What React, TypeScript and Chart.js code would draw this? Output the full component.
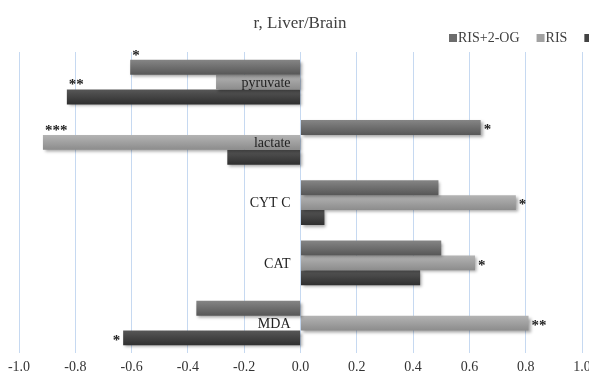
import React, { useEffect, useRef } from "react";
import { Chart, registerables } from "chart.js";

Chart.register(...registerables);

const categories = ["pyruvate", "lactate", "CYT C", "CAT", "MDA"];
const seriesNames = ["RIS+2-OG", "RIS", "C"];
const risOg = [-0.605, 0.64, 0.49, 0.5, -0.37];
const ris = [-0.3, -0.915, 0.765, 0.62, 0.81];
const ctrl = [-0.83, -0.26, 0.085, 0.425, -0.63];
const starsRisOg = ["*", "*", "", "", ""];
const starsRis = ["", "***", "*", "*", "**"];
const starsCtrl = ["**", "", "", "", "*"];
const placeRisOg = ["above", "right", "", "", ""];
const placeRis = ["", "above", "right", "right", "right"];
const placeCtrl = ["above", "", "", "", "left"];
const xMin = -1;
const xMax = 1;
const xStep = 0.2;
const titleText = "r, Liver/Brain";

const SERIF = "'Liberation Serif', 'Times New Roman', serif";

const palettes = [
  { top: "#858585", bottom: "#575757", flat: "#6c6c6c", legend: "#6c6c6c" },
  { top: "#b4b4b4", bottom: "#8c8c8c", flat: "#a2a2a2", legend: "#a2a2a2" },
  { top: "#575757", bottom: "#2f2f2f", flat: "#434343", legend: "#434343" },
];

function makeBg(idx: number) {
  return (c: any) => {
    const el = c.element;
    const p = palettes[idx];
    if (!el || typeof el.y !== "number" || typeof el.height !== "number" || isNaN(el.y)) return p.flat;
    const ctx = c.chart.ctx;
    const g = ctx.createLinearGradient(0, el.y - el.height / 2, 0, el.y + el.height / 2);
    g.addColorStop(0, p.top);
    g.addColorStop(1, p.bottom);
    return g;
  };
}

const decorPlugin = {
  id: "decor",
  beforeDatasetsDraw(chart: any) {
    const ctx = chart.ctx;
    ctx.save();
    ctx.shadowColor = "rgba(0,0,0,0.35)";
    ctx.shadowOffsetX = 2;
    ctx.shadowOffsetY = 2;
    ctx.shadowBlur = 3;
  },
  afterDatasetsDraw(chart: any) {
    const ctx = chart.ctx;
    ctx.restore();
    const xs = chart.scales.x;
    const ys = chart.scales.y;
    const x0 = xs.getPixelForValue(0);
    ctx.save();
    ctx.fillStyle = "#222";
    ctx.font = "14px " + SERIF;
    ctx.textAlign = "right";
    ctx.textBaseline = "middle";
    categories.forEach((c, i) => {
      ctx.fillText(c, x0 - 10, ys.getPixelForValue(i) + 1);
    });
    ctx.restore();

    const stars = [starsRisOg, starsRis, starsCtrl];
    const places = [placeRisOg, placeRis, placeCtrl];
    ctx.save();
    ctx.fillStyle = "#222";
    ctx.font = "bold 15px " + SERIF;
    stars.forEach((arr, di) => {
      const meta = chart.getDatasetMeta(di);
      arr.forEach((s, i) => {
        if (!s) return;
        const el = meta.data[i];
        const pl = places[di][i];
        const x = el.x;
        const y = el.y;
        const h = el.height;
        if (pl === "right") {
          ctx.textAlign = "left";
          ctx.textBaseline = "middle";
          ctx.fillText(s, x + 3, y + 3);
        } else if (pl === "left") {
          ctx.textAlign = "right";
          ctx.textBaseline = "middle";
          ctx.fillText(s, x - 3, y + 3);
        } else {
          ctx.textAlign = "left";
          ctx.textBaseline = "middle";
          ctx.fillText(s, x + 2, y - h / 2 - 4);
        }
      });
    });
    ctx.restore();
  },
  afterDraw(chart: any) {
    const ctx = chart.ctx;
    ctx.save();
    ctx.fillStyle = "#404040";
    ctx.font = "17px " + SERIF;
    ctx.textAlign = "center";
    ctx.textBaseline = "middle";
    ctx.fillText(titleText, 300, 24);
    ctx.font = "14px " + SERIF;
    ctx.textAlign = "left";
    let x = 449;
    const ly = 38;
    seriesNames.forEach((n, i) => {
      ctx.fillStyle = palettes[i].legend;
      ctx.fillRect(x, ly - 4, 8, 8);
      ctx.fillStyle = "#404040";
      ctx.fillText(n, x + 9, ly);
      x += 9 + ctx.measureText(n).width + 17;
    });
    ctx.restore();
  },
};

export default function App() {
  const ref = useRef<HTMLCanvasElement | null>(null);
  useEffect(() => {
    document.documentElement.style.overflow = "hidden";
    document.body.style.overflow = "hidden";
    if (!ref.current) return;
    const chart = new Chart(ref.current, {
      type: "bar",
      data: {
        labels: categories,
        datasets: [
          { label: seriesNames[0], data: risOg, backgroundColor: makeBg(0) },
          { label: seriesNames[1], data: ris, backgroundColor: makeBg(1) },
          { label: seriesNames[2], data: ctrl, backgroundColor: makeBg(2) },
        ],
      },
      options: {
        indexAxis: "y",
        animation: false,
        responsive: true,
        maintainAspectRatio: false,
        layout: { padding: { top: 52, left: 19, right: 15, bottom: -3 } },
        datasets: { bar: { categoryPercentage: 0.74, barPercentage: 1.0 } },
        plugins: {
          legend: { display: false },
          title: { display: false },
          tooltip: { enabled: false },
        },
        scales: {
          x: {
            type: "linear",
            min: xMin,
            max: xMax,
            ticks: {
              stepSize: xStep,
              callback: (v: any) => Number(v).toFixed(1),
              color: "#333",
              font: { family: SERIF, size: 14 },
              padding: 6,
            },
            grid: { color: "#c6d9f1", lineWidth: 1, drawTicks: false },
            border: { display: false },
          },
          y: {
            type: "category",
            position: { x: 0 } as any,
            ticks: { display: false },
            grid: { display: false, drawTicks: false },
            border: { display: false },
          },
        },
      },
      plugins: [decorPlugin],
    });
    chart.update();
    return () => chart.destroy();
  }, []);
  return (
    <div style={{ width: 597, height: 379, marginLeft: -8, marginTop: -8, marginBottom: -8 }}>
      <canvas ref={ref} />
    </div>
  );
}
